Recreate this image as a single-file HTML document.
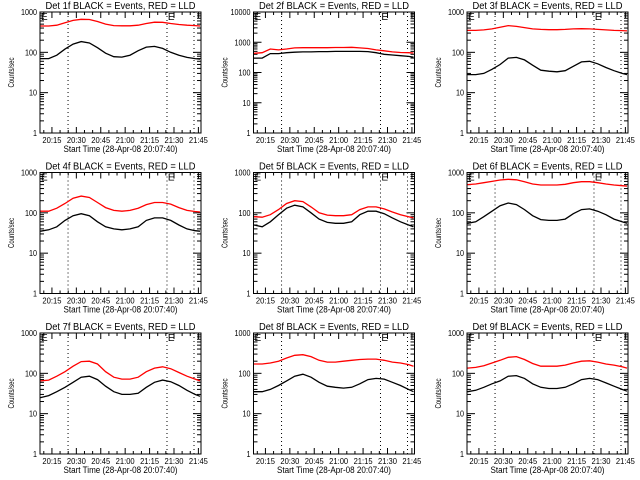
<!DOCTYPE html>
<html><head><meta charset="utf-8"><style>
html,body{margin:0;padding:0;background:#fff;}
svg{display:block;font-family:"Liberation Sans",sans-serif;}
</style></head><body>
<svg id="c" width="640" height="480" viewBox="0 0 640 480"></svg>
<script>
const times=[8,13,18,23,28,33,38,43,48,53,58,63,68,73,78,83,88,93,98,103,106];
const detNames=["1f","2f","3f","4f","5f","6f","7f","8f","9f"];
const yMaxDecades=[3,4,3,3,3,3,3,3,3];
const evBlack1=[70,70,85,120,160,185,170,130,95,78,76,85,110,135,140,125,100,85,75,70,68];
const lldRed1=[450,450,470,540,620,660,650,580,500,460,455,455,470,520,560,555,520,490,470,460,450];
const evBlack2=[300,300,420,420,450,470,480,480,490,490,500,500,500,500,490,450,400,380,360,340,320];
const lldRed2=[430,450,600,560,600,650,660,660,660,660,670,670,680,650,620,560,520,480,460,450,440];
const evBlack3=[28,28,30,38,50,72,75,65,48,36,34,33,35,45,58,60,52,42,35,30,28];
const lldRed3=[350,350,360,380,420,460,440,410,380,370,365,365,370,380,385,380,370,360,350,345,340];
const evBlack4=[35,38,45,65,85,95,85,60,45,40,38,40,45,65,75,75,65,50,40,36,35];
const lldRed4=[110,110,130,170,230,260,240,180,135,115,110,115,130,160,180,180,165,135,115,108,105];
const evBlack5=[50,45,60,90,130,155,140,100,70,58,55,55,60,90,110,110,95,75,60,50,45];
const lldRed5=[80,78,90,120,170,200,190,140,100,88,85,85,90,120,140,140,125,105,90,80,75];
const evBlack6=[55,60,80,110,150,175,160,120,85,68,65,65,70,95,120,125,110,90,70,60,55];
const lldRed6=[500,520,560,600,650,680,660,590,520,490,490,490,510,560,590,590,560,520,490,470,460];
const evBlack7=[25,28,35,45,60,80,85,70,48,35,30,30,32,45,60,68,62,50,38,30,27];
const lldRed7=[65,68,85,110,150,195,200,170,110,80,72,72,80,110,135,145,130,105,85,72,65];
const evBlack8=[35,35,40,50,65,85,95,80,60,48,45,43,45,55,70,75,72,60,50,40,35];
const lldRed8=[170,170,180,200,240,280,290,260,210,190,190,200,210,220,225,225,210,190,180,165,150];
const evBlack9=[35,38,45,55,65,85,88,75,55,45,42,42,45,55,70,75,70,58,48,40,36];
const lldRed9=[135,140,155,180,210,250,260,220,175,150,150,150,160,180,200,205,190,170,160,145,135];
const blackSeries=[evBlack1,evBlack2,evBlack3,evBlack4,evBlack5,evBlack6,evBlack7,evBlack8,evBlack9];
const redSeries=[lldRed1,lldRed2,lldRed3,lldRed4,lldRed5,lldRed6,lldRed7,lldRed8,lldRed9];
const xTickMinutes=[15,30,45,60,75,90,105];
const xTickLabels=["20:15","20:30","20:45","21:00","21:15","21:30","21:45"];
const yTickLabels=["1","10","100","1000","10000"];
const eventLines=[24.9,85.7,102.3];
const eMarks=[9.5,87.5];

const NS="http://www.w3.org/2000/svg";
const svg=document.getElementById('c');
function mk(tag,attrs,parent){const e=document.createElementNS(NS,tag);for(const k in attrs)e.setAttribute(k,attrs[k]);(parent||svg).appendChild(e);return e;}

const T0=7.667,T1=106.6;
for(let p=0;p<9;p++){
  const col=p%3,row=Math.floor(p/3);
  const L=40+col*213.5,R=L+161,Tp=12+row*160.5,B=Tp+121;
  const nd=yMaxDecades[p];
  const g=mk('g',{});
  
  
  const xs=t=>L+(t-T0)/(T1-T0)*(R-L);
  const ys=v=>B-Math.log10(v)/nd*(B-Tp);
  const title=mk('text',{x:(L+R)/2,y:Tp-3,'text-anchor':'middle','font-size':'10',textLength:'150',lengthAdjust:'spacingAndGlyphs'},g);
  title.textContent='Det '+detNames[p]+' BLACK = Events, RED = LLD';
  
  
  for(let d=0;d<=nd;d++){
    const y=ys(Math.pow(10,d));
    mk('line',{x1:L,x2:L+8,y1:y,y2:y,stroke:'#000'},g);
    mk('line',{x1:R,x2:R-8,y1:y,y2:y,stroke:'#000'},g);
    const lab=yTickLabels[d];
    const tl=mk('text',{x:L-3,y:y+3,'text-anchor':'end','font-size':'8.5',textLength:String(lab.length*4),lengthAdjust:'spacingAndGlyphs'},g);
    tl.textContent=lab;
    
    
    if(d<nd){for(let m=2;m<10;m++){const ym=ys(m*Math.pow(10,d));
      mk('line',{x1:L,x2:L+4,y1:ym,y2:ym,stroke:'#000'},g);
      mk('line',{x1:R,x2:R-4,y1:ym,y2:ym,stroke:'#000'},g);}}
  }
  for(let i=0;i<xTickMinutes.length;i++){
    const x=xs(xTickMinutes[i]);
    mk('line',{x1:x,x2:x,y1:B,y2:B-6,stroke:'#000'},g);
    mk('line',{x1:x,x2:x,y1:Tp,y2:Tp+6,stroke:'#000'},g);
    for(let m=5;m<15;m+=5){const xm=xs(xTickMinutes[i]-m);if(xm>L){
      mk('line',{x1:xm,x2:xm,y1:B,y2:B-3,stroke:'#000'},g);mk('line',{x1:xm,x2:xm,y1:Tp,y2:Tp+3,stroke:'#000'},g);}}
    const xl=mk('text',{x:x,y:B+10,'text-anchor':'middle','font-size':'8.5',textLength:'19',lengthAdjust:'spacingAndGlyphs'},g);
    xl.textContent=xTickLabels[i];
    
    
  }
  const xt=mk('text',{x:(L+R)/2,y:B+19,'text-anchor':'middle','font-size':'9',textLength:'114',lengthAdjust:'spacingAndGlyphs'},g);
  xt.textContent='Start Time (28-Apr-08 20:07:40)';
  
  
  const yt=mk('text',{x:0,y:0,'text-anchor':'middle','font-size':'8.5',textLength:'30',lengthAdjust:'spacingAndGlyphs',transform:'translate('+(L-26)+','+((Tp+B)/2)+') rotate(-90)'},g);
  yt.textContent='Counts/sec';
  
  
  for(const t of eventLines){const x=xs(t);
    const ln=mk('line',{x1:x,x2:x,y1:Tp,y2:B,stroke:'#000','stroke-dasharray':'1 3'},g);
    
    }
  for(const t of eMarks){const x=xs(t);
    const e=mk('text',{x:x-2,y:Tp+8,'font-size':'10'},g);e.textContent='E';
    
    }
  const mkPath=(arr,color,name)=>{
    let d='';arr.forEach((v,i)=>{d+=(i?'L':'M')+xs(times[i]).toFixed(1)+' '+ys(v).toFixed(1);});
    const pth=mk('path',{d:d,fill:'none',stroke:color,'stroke-width':'1.3'},g);
    
    
  };
  mkPath(redSeries[p],'#ff0000','lld-line');
  mkPath(blackSeries[p],'#000000','events-line');
  const box=mk('rect',{x:L,y:Tp,width:R-L,height:B-Tp,fill:'none',stroke:'#000'},g);
  
  
}
</script>
</body></html>
